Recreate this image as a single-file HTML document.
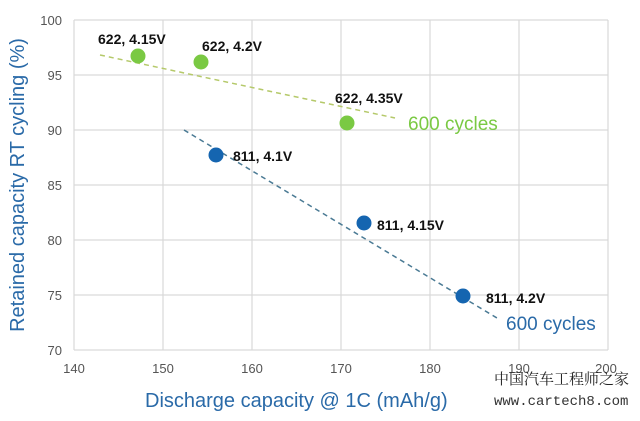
<!DOCTYPE html><html><head><style>body{margin:0;background:#fff}</style></head><body>
<svg width="640" height="416" xmlns="http://www.w3.org/2000/svg" font-family="Liberation Sans, sans-serif">
<rect width="640" height="416" fill="#fff"/>
<g stroke="#d9d9d9" stroke-width="1.2" fill="none">
<path d="M74 20H608M74 75H608M74 130H608M74 185H608M74 240H608M74 295H608M74 350H608"/>
<path d="M74 20V350M163 20V350M252 20V350M341 20V350M430 20V350M519 20V350M608 20V350"/>
</g>
<g font-size="13" fill="#555" text-anchor="end">
<text x="62" y="25">100</text><text x="62" y="80">95</text><text x="62" y="135">90</text><text x="62" y="190">85</text><text x="62" y="245">80</text><text x="62" y="300">75</text><text x="62" y="355">70</text>
</g>
<g font-size="13" fill="#555" text-anchor="middle">
<text x="74" y="373">140</text><text x="163" y="373">150</text><text x="252" y="373">160</text><text x="341" y="373">170</text><text x="430" y="373">180</text><text x="519" y="373">190</text><text x="606" y="373">200</text>
</g>
<line x1="100" y1="55" x2="395" y2="118" stroke="#b5c96a" stroke-width="1.5" stroke-dasharray="5,4"/>
<line x1="184" y1="130" x2="497" y2="318" stroke="#4a7a94" stroke-width="1.5" stroke-dasharray="5,4"/>
<g fill="#7ac943"><circle cx="138" cy="56" r="7.5"/><circle cx="201" cy="62" r="7.5"/><circle cx="347" cy="123" r="7.5"/></g>
<g fill="#1565b0"><circle cx="216" cy="155" r="7.5"/><circle cx="364" cy="223" r="7.5"/><circle cx="463" cy="296" r="7.5"/></g>
<g font-size="14" font-weight="bold" fill="#111">
<text x="98" y="44">622, 4.15V</text><text x="202" y="51">622, 4.2V</text><text x="335" y="103">622, 4.35V</text>
<text x="233" y="161">811, 4.1V</text><text x="377" y="230">811, 4.15V</text><text x="486" y="303">811, 4.2V</text>
</g>
<text x="408" y="130" font-size="19" fill="#7ac943">600 cycles</text>
<text x="506" y="330" font-size="19" fill="#2a6aa8">600 cycles</text>
<text x="145" y="407" font-size="20" fill="#2a6aa8">Discharge capacity @ 1C (mAh/g)</text>
<text transform="translate(24,185) rotate(-90)" text-anchor="middle" font-size="20" fill="#2a6aa8">Retained capacity RT cycling (%)</text>
<text x="494" y="384" font-size="15" fill="#222" font-family="Liberation Serif, Noto Serif CJK SC, serif">中国汽车工程师之家</text>
<text x="494" y="405" font-size="14" fill="#333" font-family="Liberation Mono, monospace">www.cartech8.com</text>
</svg>
</body></html>
